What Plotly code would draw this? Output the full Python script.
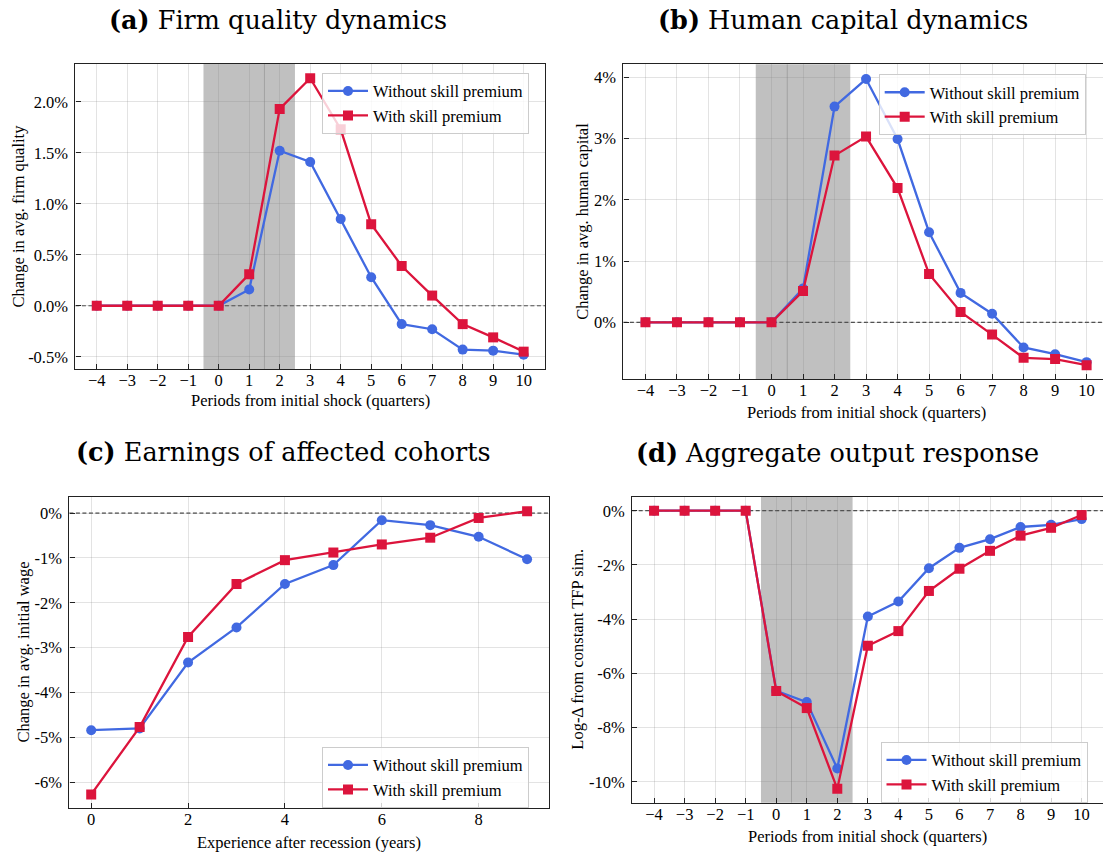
import plotly.graph_objects as go

# ---------------- data ----------------
periods = [-4, -3, -2, -1, 0, 1, 2, 3, 4, 5, 6, 7, 8, 9, 10]
years = [0, 1, 2, 3, 4, 5, 6, 7, 8, 9]

firm_without = [0, 0, 0, 0, 0, 0.16, 1.52, 1.41, 0.85, 0.28, -0.18, -0.23, -0.43, -0.44, -0.48]
firm_with = [0, 0, 0, 0, 0, 0.31, 1.93, 2.23, 1.73, 0.80, 0.39, 0.10, -0.18, -0.31, -0.45]

hc_without = [0, 0, 0, 0, 0, 0.55, 3.52, 3.97, 2.99, 1.47, 0.48, 0.14, -0.41, -0.52, -0.65]
hc_with = [0, 0, 0, 0, 0, 0.51, 2.72, 3.03, 2.19, 0.79, 0.17, -0.20, -0.58, -0.60, -0.70]

wage_without = [-4.84, -4.80, -3.33, -2.55, -1.58, -1.16, -0.16, -0.27, -0.53, -1.03]
wage_with = [-6.27, -4.77, -2.76, -1.58, -1.05, -0.88, -0.70, -0.55, -0.11, 0.04]

out_without = [0, 0, 0, 0, -6.64, -7.06, -9.51, -3.90, -3.35, -2.12, -1.37, -1.05, -0.60, -0.52, -0.31]
out_with = [0, 0, 0, 0, -6.65, -7.28, -10.26, -4.98, -4.44, -2.96, -2.14, -1.48, -0.92, -0.63, -0.16]

period_ticks = [-4, -3, -2, -1, 0, 1, 2, 3, 4, 5, 6, 7, 8, 9, 10]
year_ticks = [0, 2, 4, 6, 8]

firm_yticks = [-0.5, 0.0, 0.5, 1.0, 1.5, 2.0]
firm_ytext = ["-0.5%", "0.0%", "0.5%", "1.0%", "1.5%", "2.0%"]
hc_yticks = [0, 1, 2, 3, 4]
hc_ytext = ["0%", "1%", "2%", "3%", "4%"]
wage_yticks = [0, -1, -2, -3, -4, -5, -6]
wage_ytext = ["0%", "-1%", "-2%", "-3%", "-4%", "-5%", "-6%"]
out_yticks = [0, -2, -4, -6, -8, -10]
out_ytext = ["0%", "-2%", "-4%", "-6%", "-8%", "-10%"]

titles = ["<b>(a)</b> Firm quality dynamics", "<b>(b)</b> Human capital dynamics",
          "<b>(c)</b> Earnings of affected cohorts", "<b>(d)</b> Aggregate output response"]
ylabels = ["Change in avg. firm quality", "Change in avg. human capital",
           "Change in avg. initial wage", "Log-Δ from constant TFP sim."]
xlabels = ["Periods from initial shock (quarters)", "Periods from initial shock (quarters)",
           "Experience after recession (years)", "Periods from initial shock (quarters)"]
series_names = ["Without skill premium", "With skill premium"]

SHOCK_START, SHOCK_END = -0.5, 2.5
REF_LEVEL = 0.0

# ---------------- styling ----------------
W, H = 1103, 854
BLUE = "#4169E1"
RED = "#DC143C"
SERIF = "Liberation Serif, Times New Roman, serif"
TITLE_FONT = "DejaVu Serif, serif"
GRID = "rgba(128,128,128,0.22)"


def xd(l, r):
    return [l / W, min(r / W, 1.0)]


def yd(t, b):
    return [1 - b / H, 1 - t / H]


panels = [
    dict(x=periods, a=firm_without, b=firm_with, xt=period_ticks,
         yt=firm_yticks, ytt=firm_ytext, xr=[-4.7, 10.7], yr=[-0.62, 2.37],
         dom_x=xd(75.4, 545), dom_y=yd(64, 369), shade=True, divider=1.5,
         ymirror=True, title_xy=(278, 20), ylab_xy=(18, 216.5), xlab_xy=(310, 401),
         leg_xy=(322, 72.7)),
    dict(x=periods, a=hc_without, b=hc_with, xt=period_ticks,
         yt=hc_yticks, ytt=hc_ytext, xr=[-4.7, 10.52], yr=[-0.93, 4.21],
         dom_x=xd(623.4, 1103), dom_y=yd(64.3, 379.3), shade=True, divider=0.5,
         ymirror=False, title_xy=(843, 20), ylab_xy=(583, 221.8), xlab_xy=(866, 412.5),
         leg_xy=(878.7, 74)),
    dict(x=years, a=wage_without, b=wage_with, xt=year_ticks,
         yt=wage_yticks, ytt=wage_ytext, xr=[-0.45, 9.45], yr=[-6.58, 0.364],
         dom_x=xd(69.4, 548.9), dom_y=yd(496.7, 808.3), shade=False, divider=None,
         ymirror=True, title_xy=(283.6, 451.7), ylab_xy=(23, 652.5), xlab_xy=(309.2, 842.5),
         leg_xy=(322, 746.7)),
    dict(x=periods, a=out_without, b=out_with, xt=period_ticks,
         yt=out_yticks, ytt=out_ytext, xr=[-4.716, 10.7], yr=[-10.77, 0.517],
         dom_x=xd(632.2, 1103), dom_y=yd(496.7, 802.7), shade=True, divider=0.5,
         ymirror=False, title_xy=(837.5, 453), ylab_xy=(578, 649.7), xlab_xy=(867.6, 836),
         leg_xy=(880.5, 741.7)),
]

fig = go.Figure()
layout = dict(
    width=W, height=H, margin=dict(l=0, r=0, t=0, b=0, pad=0),
    paper_bgcolor="white", plot_bgcolor="white", showlegend=True,
    font=dict(family=SERIF, size=16, color="black"),
)
shapes = []
annotations = []

for i, p in enumerate(panels):
    n = i + 1
    xa = "x" if n == 1 else f"x{n}"
    ya = "y" if n == 1 else f"y{n}"
    leg = "legend" if n == 1 else f"legend{n}"

    fig.add_trace(go.Scatter(
        x=p["x"], y=p["a"], mode="lines+markers", name=series_names[0],
        line=dict(color=BLUE, width=2.3), marker=dict(symbol="circle", size=10, color=BLUE),
        xaxis=xa, yaxis=ya, legend=leg))
    fig.add_trace(go.Scatter(
        x=p["x"], y=p["b"], mode="lines+markers", name=series_names[1],
        line=dict(color=RED, width=2.3), marker=dict(symbol="square", size=10, color=RED),
        xaxis=xa, yaxis=ya, legend=leg))

    axis_common = dict(
        showgrid=True, gridcolor=GRID, gridwidth=1, zeroline=False,
        showline=True, linecolor="#222222", linewidth=1.2,
        ticks="inside", ticklen=5, tickwidth=1, tickcolor="#222222",
        tickfont=dict(family=SERIF, size=16.5, color="black"),
    )
    layout["xaxis" if n == 1 else f"xaxis{n}"] = dict(
        axis_common, domain=p["dom_x"], range=p["xr"], anchor=ya,
        tickmode="array", tickvals=p["xt"], mirror=True, ticklabelstandoff=-4)
    layout["yaxis" if n == 1 else f"yaxis{n}"] = dict(
        axis_common, domain=p["dom_y"], range=p["yr"], anchor=xa,
        tickmode="array", tickvals=p["yt"], ticktext=p["ytt"],
        mirror=p["ymirror"], ticklabelstandoff=3)

    xref = xa
    yref_dom = f"{ya} domain"
    if p["shade"]:
        shapes.append(dict(type="rect", xref=xref, yref=yref_dom, x0=SHOCK_START, x1=SHOCK_END,
                           y0=0, y1=1, fillcolor="#c0c0c0", line=dict(width=0), layer="below"))
        shapes.append(dict(type="line", xref=xref, yref=yref_dom, x0=p["divider"], x1=p["divider"],
                           y0=0, y1=1, line=dict(color="rgba(110,110,110,0.35)", width=1),
                           layer="below"))
    shapes.append(dict(type="line", xref=f"{xa} domain", yref=ya, x0=0, x1=1,
                       y0=REF_LEVEL, y1=REF_LEVEL,
                       line=dict(color="#444444", width=1.2, dash="4px,2.5px"), layer="below"))

    tx, ty = p["title_xy"]
    annotations.append(dict(text=titles[i], x=tx / W, y=1 - ty / H, xref="paper", yref="paper",
                            xanchor="center", yanchor="middle", showarrow=False,
                            font=dict(family=TITLE_FONT, size=25.5, color="black")))
    lx, ly = p["ylab_xy"]
    annotations.append(dict(text=ylabels[i], x=lx / W, y=1 - ly / H, xref="paper", yref="paper",
                            xanchor="center", yanchor="middle", showarrow=False, textangle=-90,
                            font=dict(family=SERIF, size=16.5, color="black")))
    bx, by = p["xlab_xy"]
    annotations.append(dict(text=xlabels[i], x=bx / W, y=1 - by / H, xref="paper", yref="paper",
                            xanchor="center", yanchor="middle", showarrow=False,
                            font=dict(family=SERIF, size=16.5, color="black")))

    gx, gy = p["leg_xy"]
    layout[leg] = dict(x=gx / W, y=1 - gy / H, xanchor="left", yanchor="top",
                       xref="paper", yref="paper",
                       bgcolor="rgba(255,255,255,0.8)", bordercolor="#cccccc", borderwidth=1,
                       font=dict(family=SERIF, size=16.5, color="black"),
                       tracegroupgap=0, itemwidth=40)

layout["shapes"] = shapes
layout["annotations"] = annotations
fig.update_layout(**layout)

fig.write_html("out.html", config={"displayModeBar": False},
               post_script="document.body.style.margin='0px';document.body.style.padding='0px';")
